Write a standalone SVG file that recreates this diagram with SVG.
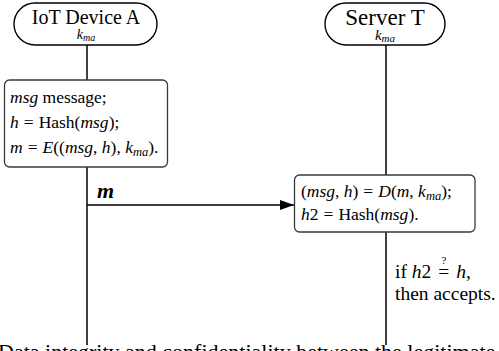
<svg xmlns="http://www.w3.org/2000/svg" width="499" height="351" viewBox="0 0 499 351" font-family="'Liberation Serif', 'Times New Roman', serif">
  <style>
    text { font-family: "Liberation Serif", "Times New Roman", serif; fill: #000; }
    .it { font-style: italic; }
    .party { fill: #fff; stroke: #000; stroke-width: 1.4; }
    .step { fill: #fff; stroke: #3a3a3a; stroke-width: 1.3; }
    .life { stroke: #000; stroke-width: 1.5; fill: none; }
    .msg { stroke: #000; stroke-width: 1.4; fill: none; }
  </style>
  <defs>
    <marker id="arrow" viewBox="0 0 14 10" refX="14" refY="5" markerWidth="14" markerHeight="10" markerUnits="userSpaceOnUse" orient="auto">
      <path d="M0,0 L14,5 L0,10 Z" fill="#000"/>
    </marker>
  </defs>
  <rect width="499" height="351" fill="#fff"/>

  <!-- lifelines and message -->
  <g id="connectors">
    <line class="life" x1="87" y1="45" x2="87" y2="80"/>
    <line class="life" x1="87" y1="167" x2="87" y2="345"/>
    <line class="life" x1="386" y1="45" x2="386" y2="175"/>
    <line class="life" x1="386" y1="232" x2="386" y2="345"/>
    <line class="msg" x1="87" y1="205" x2="294" y2="205" marker-end="url(#arrow)"/>
    <text class="it" x="97" y="198" font-size="22" font-weight="bold">m</text>
  </g>

  <g id="device-a">
    <rect class="party" x="14" y="3" width="143" height="42" rx="21"/>
    <text x="86" y="24" font-size="20" text-anchor="middle">IoT Device A</text>
    <text x="86" y="39" font-size="14" text-anchor="middle"><tspan class="it">k</tspan><tspan class="it" font-size="10" dy="2">ma</tspan></text>
  </g>

  <g id="server-t">
    <rect class="party" x="325" y="3" width="120" height="42" rx="21"/>
    <text x="385" y="25" font-size="23" text-anchor="middle">Server T</text>
    <text x="385" y="40" font-size="15" text-anchor="middle"><tspan class="it">k</tspan><tspan class="it" font-size="11" dy="2">ma</tspan></text>
  </g>

  <g id="device-a-compute">
    <rect class="step" x="4.5" y="80" width="163" height="87" rx="5"/>
    <text x="10" y="103" font-size="17.5"><tspan class="it">msg</tspan> message;</text>
    <text x="10" y="128" font-size="17.5"><tspan class="it">h</tspan><tspan dx="5">=</tspan><tspan dx="5">Hash(</tspan><tspan class="it">msg</tspan>);</text>
    <text x="10" y="153" font-size="17.5"><tspan class="it">m</tspan><tspan dx="5">=</tspan><tspan class="it" dx="5">E</tspan>((<tspan class="it">msg</tspan>, <tspan class="it">h</tspan>), <tspan class="it">k</tspan><tspan class="it" font-size="12.5" dy="3">ma</tspan><tspan dy="-3">).</tspan></text>
  </g>

  <g id="server-t-compute">
    <rect class="step" x="294.5" y="175" width="180.5" height="57" rx="5"/>
    <text x="301" y="197" font-size="17.5">(<tspan class="it">msg</tspan>, <tspan class="it">h</tspan>)<tspan dx="5">=</tspan><tspan class="it" dx="5">D</tspan>(<tspan class="it">m</tspan>, <tspan class="it">k</tspan><tspan class="it" font-size="12.5" dy="3">ma</tspan><tspan dy="-3">);</tspan></text>
    <text x="301" y="220" font-size="17.5"><tspan class="it">h</tspan>2<tspan dx="5">=</tspan><tspan dx="5">Hash(</tspan><tspan class="it">msg</tspan>).</text>
  </g>

  <g id="server-t-check">
    <text x="395" y="278" font-size="19.5">if <tspan class="it">h</tspan>2<tspan dx="7">=</tspan><tspan class="it" dx="7">h</tspan>,</text>
    <text x="444" y="264" font-size="11" text-anchor="middle">?</text>
    <text x="395" y="300" font-size="19.5">then accepts.</text>
  </g>

  <text x="-2" y="359" font-size="22">Data integrity and confidentiality between the legitimate I</text>
</svg>
